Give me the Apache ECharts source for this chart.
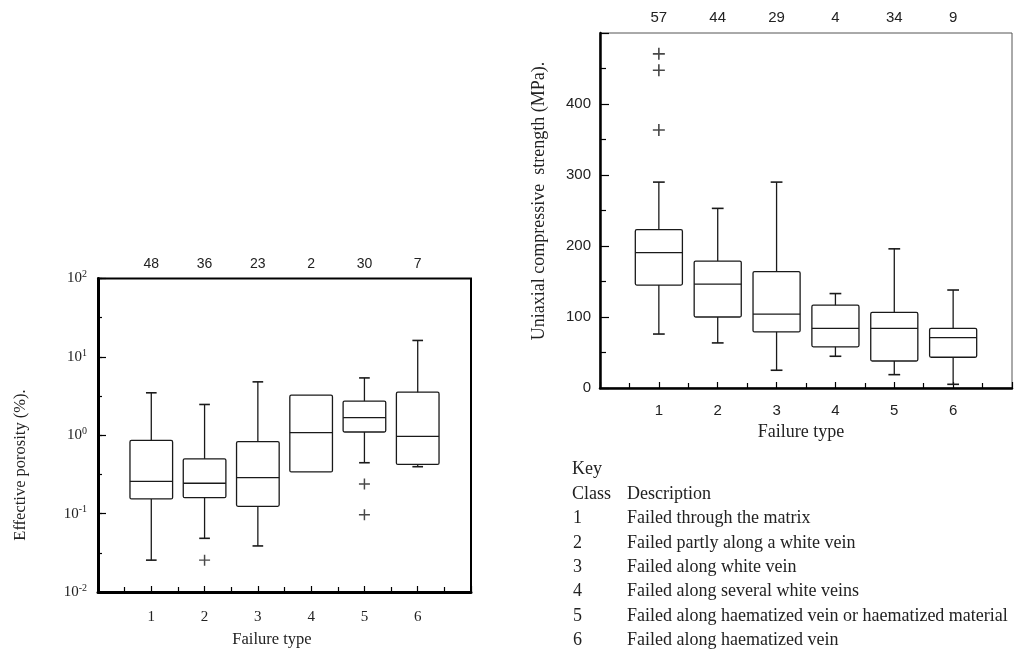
<!DOCTYPE html>
<html>
<head>
<meta charset="utf-8">
<title>Porosity and UCS by failure type</title>
<script src="https://cdn.jsdelivr.net/npm/echarts@6/dist/echarts.min.js"></script>
<style>
  html, body { margin: 0; padding: 0; background: #fff; }
  #chart { width: 1017px; height: 654px; }
</style>
</head>
<body>
<div id="chart"></div>
<script>
// Failure classes
const categories = ['1', '2', '3', '4', '5', '6'];
const descriptions = [
  'Failed through the matrix',
  'Failed partly along a white vein',
  'Failed along white vein',
  'Failed along several white veins',
  'Failed along haematized vein or haematized material',
  'Failed along haematized vein'
];

// Effective porosity (%) per class: whiskers, quartiles, median
const porLow  = [0.0255, 0.0484, 0.0387, 0.34, 0.446, 0.397];
const porQ1   = [0.154, 0.160, 0.124, 0.34, 1.10, 0.425];
const porMed  = [0.258, 0.244, 0.288, 1.08, 1.68, 0.97];
const porQ3   = [0.86, 0.50, 0.83, 3.25, 2.73, 3.55];
const porHigh = [3.48, 2.47, 4.8, 3.25, 5.39, 16.2];
const porCounts = [48, 36, 23, 2, 30, 7];
const porOutClass = [2, 5, 5];
const porOutVal = [0.0255, 0.239, 0.0966];

// Uniaxial compressive strength (MPa) per class
const ucsLow  = [76, 63.5, 25, 44.7, 18.8, 5.2];
const ucsQ1   = [145, 100, 79, 58, 38, 43.3];
const ucsMed  = [190.6, 146.4, 104, 84, 84, 71];
const ucsQ3   = [223, 178.8, 164, 116.7, 106.4, 84];
const ucsHigh = [290, 253, 290, 133, 196, 138];
const ucsCounts = [57, 44, 29, 4, 34, 9];
const ucsOutClass = [1, 1, 1];
const ucsOutVal = [470.6, 447.5, 363.3];

const SERIF = '"Liberation Serif", "Times New Roman", serif';
const SANS = '"Liberation Sans", Arial, sans-serif';
const INK = '#1a1a1a';
const PLUS = 'path://M5.2,0H6.8V5.2H12V6.8H6.8V12H5.2V6.8H0V5.2H5.2Z';

function boxData(lo, q1, md, q3, hi) {
  return categories.map((c, i) => [i + 1, lo[i], q1[i], md[i], q3[i], hi[i]]);
}
function outlierData(cls, val) {
  return cls.map((c, i) => [c, val[i]]);
}

// Box with whiskers and short caps, drawn through the axis scales
function renderBox(params, api) {
  const x = api.value(0);
  const lo = api.value(1), q1 = api.value(2), md = api.value(3), q3 = api.value(4), hi = api.value(5);
  const tl = api.coord([x - 0.4, q3]);
  const br = api.coord([x + 0.4, q1]);
  const mL = api.coord([x - 0.4, md]);
  const mR = api.coord([x + 0.4, md]);
  const cx = api.coord([x, md])[0];
  const capHalf = (api.coord([x + 0.1, md])[0] - api.coord([x - 0.1, md])[0]) / 2;
  const yHi = api.coord([x, hi])[1];
  const yLo = api.coord([x, lo])[1];
  const st = { stroke: INK, lineWidth: 1.3, fill: null };
  const kids = [
    { type: 'rect', shape: { x: tl[0], y: tl[1], width: br[0] - tl[0], height: br[1] - tl[1], r: 1.5 },
      style: { stroke: INK, lineWidth: 1.3, fill: 'none' } },
    { type: 'line', shape: { x1: mL[0], y1: mL[1], x2: mR[0], y2: mR[1] }, style: st }
  ];
  if (hi > q3) {
    kids.push({ type: 'line', shape: { x1: cx, y1: tl[1], x2: cx, y2: yHi }, style: st });
    kids.push({ type: 'line', shape: { x1: cx - capHalf, y1: yHi, x2: cx + capHalf, y2: yHi }, style: { stroke: INK, lineWidth: 1.6 } });
  }
  if (lo < q1) {
    kids.push({ type: 'line', shape: { x1: cx, y1: br[1], x2: cx, y2: yLo }, style: st });
    kids.push({ type: 'line', shape: { x1: cx - capHalf, y1: yLo, x2: cx + capHalf, y2: yLo }, style: { stroke: INK, lineWidth: 1.6 } });
  }
  return { type: 'group', children: kids };
}

function classLabel(v) {
  return (v >= 1 && v <= categories.length) ? categories[v - 1] : '';
}

const chart = echarts.init(document.getElementById('chart'), null, { renderer: 'canvas' });

const KEY_FONT = '18px ' + SERIF;
const keyLines = [
  { type: 'text', left: 572, top: 460, style: { text: 'Key', font: KEY_FONT, fill: '#222' } },
  { type: 'text', left: 572, top: 485, style: { text: 'Class', font: KEY_FONT, fill: '#222' } },
  { type: 'text', left: 627, top: 485, style: { text: 'Description', font: KEY_FONT, fill: '#222' } }
];
categories.forEach((c, i) => {
  const top = 509.5 + i * 24.4;
  keyLines.push({ type: 'text', left: 573, top: top, style: { text: c, font: KEY_FONT, fill: '#222' } });
  keyLines.push({ type: 'text', left: 627, top: top, style: { text: descriptions[i], font: KEY_FONT, fill: '#222' } });
});

chart.setOption({
  animation: false,
  backgroundColor: '#fff',
  grid: [
    { left: 98, top: 278.5, width: 373, height: 313.5, show: true, borderColor: '#000', borderWidth: 2, backgroundColor: 'transparent' },
    { left: 600, top: 33, width: 412, height: 355, show: true, borderColor: '#555', borderWidth: 1, backgroundColor: 'transparent' }
  ],
  xAxis: [
    { // porosity: classes
      gridIndex: 0, type: 'value', min: 0, max: 7, interval: 1, position: 'bottom',
      axisLine: { onZero: false, lineStyle: { color: '#000', width: 3 } },
      axisTick: { inside: true, length: 6, lineStyle: { color: '#000', width: 1.2 } },
      minorTick: { show: true, splitNumber: 2, length: 5, lineStyle: { color: '#000', width: 1.2 } },
      splitLine: { show: false },
      axisLabel: { formatter: classLabel, margin: 18, fontFamily: SERIF, fontSize: 15, color: '#222' }
    },
    { // porosity: sample counts
      gridIndex: 0, type: 'value', min: 0, max: 7, interval: 1, position: 'top',
      axisLine: { show: false, onZero: false }, axisTick: { show: false }, splitLine: { show: false },
      axisLabel: { formatter: v => (v >= 1 && v <= 6) ? String(porCounts[v - 1]) : '', margin: 7, fontFamily: SANS, fontSize: 14, color: '#222' }
    },
    { // UCS: classes
      gridIndex: 1, type: 'value', min: 0, max: 7, interval: 1, position: 'bottom',
      axisLine: { onZero: false, lineStyle: { color: '#000', width: 2.5 } },
      axisTick: { inside: true, length: 6, lineStyle: { color: '#000', width: 1.2 } },
      minorTick: { show: true, splitNumber: 2, length: 5, lineStyle: { color: '#000', width: 1.2 } },
      splitLine: { show: false },
      axisLabel: { formatter: classLabel, margin: 15, fontFamily: SANS, fontSize: 15, color: '#222' }
    },
    { // UCS: sample counts
      gridIndex: 1, type: 'value', min: 0, max: 7, interval: 1, position: 'top',
      axisLine: { show: false, onZero: false }, axisTick: { show: false }, splitLine: { show: false },
      axisLabel: { formatter: v => (v >= 1 && v <= 6) ? String(ucsCounts[v - 1]) : '', margin: 8, fontFamily: SANS, fontSize: 15, color: '#222' }
    }
  ],
  yAxis: [
    { // effective porosity, log scale
      gridIndex: 0, type: 'log', logBase: 10, min: 0.01, max: 100, splitNumber: 4,
      axisLine: { onZero: false, lineStyle: { color: '#000', width: 3 } },
      axisTick: { inside: true, length: 8, lineStyle: { color: '#000', width: 1.2 } },
      splitLine: { show: false },
      axisLabel: {
        margin: 11,
        formatter: v => '{b|10}{s|' + Math.round(Math.log10(v)) + '}',
        rich: {
          b: { fontFamily: SERIF, fontSize: 15, color: '#222', lineHeight: 18 },
          s: { fontFamily: SERIF, fontSize: 10, color: '#222', verticalAlign: 'top', lineHeight: 10 }
        }
      }
    },
    { // half-decade tick marks (log10 units x2)
      gridIndex: 0, type: 'value', min: -4, max: 4, interval: 1, position: 'left',
      axisLine: { show: false, onZero: false },
      axisTick: { inside: true, length: 4, lineStyle: { color: '#000', width: 1.2 } },
      axisLabel: { show: false }, splitLine: { show: false }
    },
    { // uniaxial compressive strength
      gridIndex: 1, type: 'value', min: 0, max: 500, interval: 100,
      axisLine: { onZero: false, lineStyle: { color: '#000', width: 2.5 } },
      axisTick: { inside: true, length: 9, lineStyle: { color: '#000', width: 1.2 } },
      minorTick: { show: true, splitNumber: 2, length: 6, lineStyle: { color: '#000', width: 1.2 } },
      splitLine: { show: false },
      axisLabel: { formatter: v => v >= 500 ? '' : String(v), margin: 9, fontFamily: SANS, fontSize: 15, color: '#222' }
    }
  ],
  graphic: [
    { type: 'text', x: 21, y: 465, rotation: Math.PI / 2,
      style: { text: 'Effective porosity (%).', font: '16.5px ' + SERIF, fill: '#222', align: 'center', verticalAlign: 'middle' } },
    { type: 'text', x: 272, y: 640,
      style: { text: 'Failure type', font: '16.5px ' + SERIF, fill: '#222', align: 'center', verticalAlign: 'middle' } },
    { type: 'text', x: 539, y: 201, rotation: Math.PI / 2,
      style: { text: 'Uniaxial compressive  strength (MPa).', font: '18px ' + SERIF, fill: '#222', align: 'center', verticalAlign: 'middle' } },
    { type: 'text', x: 801, y: 432,
      style: { text: 'Failure type', font: '18px ' + SERIF, fill: '#222', align: 'center', verticalAlign: 'middle' } },
    { type: 'group', children: keyLines }
  ],
  series: [
    {
      type: 'custom', name: 'Effective porosity', xAxisIndex: 0, yAxisIndex: 0,
      renderItem: renderBox, encode: { x: 0, y: [1, 2, 3, 4, 5] },
      data: boxData(porLow, porQ1, porMed, porQ3, porHigh)
    },
    {
      type: 'scatter', name: 'Porosity outliers', xAxisIndex: 0, yAxisIndex: 0,
      symbol: PLUS, symbolSize: 11, itemStyle: { color: INK },
      data: outlierData(porOutClass, porOutVal)
    },
    {
      type: 'custom', name: 'UCS', xAxisIndex: 2, yAxisIndex: 2,
      renderItem: renderBox, encode: { x: 0, y: [1, 2, 3, 4, 5] },
      data: boxData(ucsLow, ucsQ1, ucsMed, ucsQ3, ucsHigh)
    },
    {
      type: 'scatter', name: 'UCS outliers', xAxisIndex: 2, yAxisIndex: 2,
      symbol: PLUS, symbolSize: 12, itemStyle: { color: INK },
      data: outlierData(ucsOutClass, ucsOutVal)
    }
  ]
});
</script>
</body>
</html>
